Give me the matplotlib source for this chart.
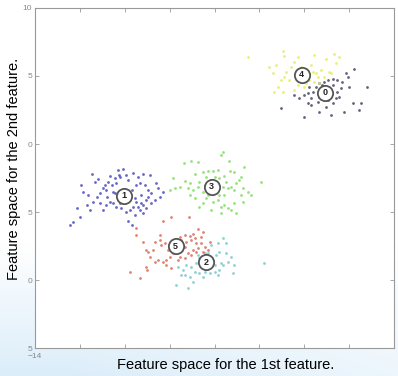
import numpy as np
import matplotlib
matplotlib.use("Agg")
import matplotlib.pyplot as plt

# =========================================================
# DATA
# =========================================================

blue_x = [-11.45, -11.19, -10.67, -10.30, -10.08, -10.25, -10.45, -10.74, -10.89, -10.99,
          -10.82, -10.59, -10.37, -10.22, -9.93, -9.85, -9.63, -9.41, -9.19, -8.89,
          -9.33, -9.48, -9.11, -8.96, -8.82, -8.59, -8.52, -8.30, -8.44, -8.67,
          -9.04, -9.26, -9.48, -9.63, -9.78, -9.33, -9.04, -9.19, -9.56, -9.93,
          -10.15, -10.37, -10.52, -10.67, -10.82, -10.96, -11.11, -11.26, -11.41, -11.63,
          -11.85, -11.93, -11.70, -11.56, -12.15, -12.00, -12.30, -12.44, -9.85, -9.70,
          -8.82, -11.11, -10.52, -11.33, -9.70, -10.44, -9.56, -9.26, -8.96, -9.41,
          -9.19, -10.81, -10.22]
blue_y = [-2.21, -2.60, -2.36, -1.91, -1.87, -2.28, -2.53, -2.77, -3.02, -3.26,
          -3.38, -3.02, -2.85, -2.45, -2.28, -2.65, -2.16, -2.41, -2.21, -2.28,
          -2.90, -3.02, -3.02, -3.38, -3.63, -2.90, -3.26, -3.51, -3.87, -4.12,
          -4.12, -4.36, -4.24, -4.61, -4.85, -4.85, -4.73, -5.10, -5.22, -4.98,
          -4.73, -4.61, -4.36, -4.24, -4.49, -4.85, -4.36, -3.87, -4.24, -3.75,
          -3.51, -3.02, -4.49, -4.85, -4.73, -5.34, -5.71, -5.95, -5.64, -5.95,
          -4.36, -3.63, -3.51, -2.77, -3.38, -3.63, -3.99, -3.75, -3.87, -4.61,
          -4.49, -3.87, -4.36]

green_x = [-5.63, -5.70, -5.36, -6.74, -7.04, -7.38, -7.85, -7.33, -7.56, -7.78,
           -8.00, -7.11, -6.89, -6.52, -6.30, -6.07, -5.85, -6.00, -6.37, -6.22,
           -5.78, -5.56, -5.33, -5.11, -4.81, -4.67, -4.89, -5.04, -5.26, -5.41,
           -5.11, -4.74, -4.52, -4.37, -3.93, -4.74, -5.11, -5.26, -5.04, -5.41,
           -5.70, -5.85, -5.70, -5.56, -6.07, -6.37, -6.52, -6.67, -6.89, -7.11,
           -6.96, -6.74, -6.52, -6.30, -6.07, -5.78, -5.56, -6.67, -7.19, -5.63,
           -5.48, -6.44, -6.15, -4.81]
green_y = [-0.61, -0.81, -1.25, -1.35, -1.25, -1.42, -2.52, -2.72, -3.14, -3.26,
           -3.38, -2.89, -2.23, -2.03, -1.99, -1.99, -1.91, -2.40, -2.40, -2.65,
           -2.52, -2.33, -1.99, -2.03, -2.40, -1.67, -2.65, -2.89, -3.14, -3.26,
           -3.38, -3.26, -3.51, -3.75, -2.82, -4.24, -4.36, -4.85, -5.10, -4.73,
           -4.61, -4.12, -5.10, -4.49, -4.24, -3.99, -4.36, -4.61, -3.99, -3.75,
           -3.38, -3.14, -3.51, -3.75, -3.63, -3.75, -3.75, -2.77, -3.26, -3.14,
           -2.77, -3.02, -4.85, -3.75]

red_x = [-9.48, -9.51, -8.30, -7.93, -7.14, -6.74, -6.52, -6.59, -6.96, -7.11,
         -7.33, -7.56, -7.48, -7.26, -7.04, -6.81, -6.59, -6.44, -6.22, -6.30,
         -6.52, -6.74, -6.96, -7.04, -7.19, -7.33, -7.56, -7.63, -7.85, -8.00,
         -8.15, -8.30, -8.52, -8.67, -8.89, -9.04, -9.19, -8.96, -8.44, -8.44,
         -8.67, -8.07, -8.22, -7.85, -7.93, -8.37, -8.74, -9.04, -9.01, -9.78,
         -9.33, -7.63, -7.33, -6.89, -6.81, -8.15]
red_y = [-6.20, -6.69, -5.64, -5.39, -5.34, -6.27, -6.45, -6.81, -6.62, -6.76,
         -6.69, -6.81, -7.06, -7.18, -7.06, -7.30, -7.30, -7.55, -7.18, -7.79,
         -7.92, -7.67, -7.79, -8.16, -8.04, -8.41, -8.28, -7.92, -8.04, -8.28,
         -8.53, -8.65, -8.53, -8.65, -8.28, -7.79, -7.18, -7.92, -7.06, -6.69,
         -7.18, -7.79, -7.30, -7.06, -9.14, -7.43, -7.79, -9.02, -9.26, -9.39,
         -9.88, -8.53, -7.55, -6.94, -7.92, -8.90]

cyan_x = [-6.15, -5.85, -5.63, -5.48, -5.78, -5.93, -5.48, -5.26, -5.41, -5.63,
          -5.78, -5.85, -6.00, -6.22, -6.44, -6.67, -6.89, -7.04, -7.26, -7.41,
          -7.48, -7.63, -7.33, -7.11, -6.96, -7.19, -7.70, -6.74, -6.67, -6.44,
          -6.30, -6.07, -6.00, -5.70, -5.11, -5.19, -3.78, -6.52, -6.30, -6.81,
          -6.37]
cyan_y = [-7.43, -7.30, -6.94, -7.30, -7.92, -8.16, -8.04, -8.28, -8.65, -8.90,
          -9.26, -9.63, -9.39, -9.51, -9.39, -9.51, -9.39, -9.02, -8.90, -9.26,
          -9.63, -9.02, -9.63, -9.75, -10.12, -10.61, -10.37, -8.16, -8.41, -8.04,
          -8.04, -8.53, -8.90, -8.77, -8.90, -9.51, -8.73, -9.75, -9.14, -8.77,
          -8.28]

yellow_x = [-4.52, -2.96, -2.89, -2.44, -2.30, -1.56, -1.04, -0.67, -0.44, -0.59,
            -0.89, -1.26, -1.48, -1.63, -1.41, -1.56, -1.78, -1.93, -2.00, -2.30,
            -2.44, -2.67, -2.89, -3.04, -3.19, -3.33, -2.96, -2.81, -2.59, -3.41,
            -3.56, -3.26, -1.11, -0.81, -1.70, -2.15, -2.37, -1.85, -2.30, -1.33]
yellow_y = [6.37, 6.86, 6.47, 6.05, 6.42, 6.54, 6.23, 6.62, 6.42, 5.93,
            5.32, 5.44, 5.20, 5.32, 4.95, 4.58, 4.71, 4.46, 4.22, 4.34,
            3.97, 4.71, 4.95, 4.71, 4.22, 3.85, 3.85, 5.32, 5.69, 5.20,
            5.69, 5.81, 4.95, 5.20, 5.81, 5.69, 5.20, 5.07, 4.71, 4.46]

dark_x = [-3.04, -2.00, -2.44, -2.22, -1.85, -1.70, -1.85, -1.70, -1.41, -1.33,
          -1.26, -1.19, -1.11, -0.96, -0.74, -0.52, -0.30, -0.07, -0.15, 0.22,
          0.00, -0.37, -0.52, -0.59, -0.74, -0.96, -1.04, -1.33, -0.81, -0.22,
          0.15, 0.52, 0.44, 0.81, -1.48, -1.63, -2.00, -1.78, -1.19, -1.33,
          -0.74, -0.44]
dark_y = [2.62, 1.96, 3.60, 3.36, 3.73, 3.36, 2.99, 2.87, 3.11, 3.48,
          3.97, 4.34, 4.58, 4.71, 4.76, 4.71, 4.58, 4.95, 5.20, 5.49,
          4.22, 4.09, 3.85, 3.36, 2.99, 3.24, 2.75, 2.38, 2.13, 2.38,
          2.99, 3.04, 2.50, 4.17, 4.22, 3.85, 3.60, 4.22, 4.22, 4.46,
          4.34, 3.48]

# cluster centres (label, x, y)
center_labels = ["0", "1", "2", "3", "4", "5"]
center_x = [-1.07, -10.04, -6.37, -6.12, -2.12, -7.73]
center_y = [3.77, -3.80, -8.70, -3.14, 5.07, -7.50]

y_ticks = [10, 5, 0, -5, -10, -15]
y_ticklabels = ["10", "5", "0", "5", "0", "5"]
x_ticks = [-14, -12, -10, -8, -6, -4, -2, 0, 2]
x_ticklabels = ["\u221214", "", "", "", "", "", "", "", ""]

CLUSTERS = [
    (dark_x, dark_y, "#3c3c5a"),
    (blue_x, blue_y, "#4040b8"),
    (cyan_x, cyan_y, "#74c4c6"),
    (green_x, green_y, "#78dc56"),
    (yellow_x, yellow_y, "#e6ec58"),
    (red_x, red_y, "#d8644f"),
]

# =========================================================
# FIGURE
# =========================================================

plt.rcParams["font.family"] = ["Liberation Sans", "DejaVu Sans"]

fig = plt.figure(figsize=(3.98, 3.76), dpi=100)
fig.patch.set_facecolor("white")

# soft blue slide background at the bottom
bg = fig.add_axes([0, 0, 1, 1], zorder=-10)
gy, gx = np.mgrid[0:1:200j, 0:1:200j]
alpha = np.clip((0.35 - gy) / 0.35, 0, 1) * np.clip(1.1 - 0.6 * gx, 0, 1)
img = np.ones((200, 200, 3))
tint = np.array([0.86, 0.93, 0.98])
img = img * (1 - alpha[..., None]) + tint * alpha[..., None]
bg.imshow(img, origin="lower", extent=[0, 1, 0, 1], aspect="auto")
bg.axis("off")

ax = fig.add_axes([0.088, 0.074, 0.902, 0.905])
ax.set_facecolor("white")

for xs, ys, col in CLUSTERS:
    ax.plot(xs, ys, "o", color=col, ms=2.0, mew=0, alpha=0.8, zorder=2)

for lab, cx, cy in zip(center_labels, center_x, center_y):
    ax.plot(cx, cy, "o", mfc="white", mec="#555555", mew=1.3, ms=11, zorder=4)
    ax.text(cx, cy, lab, ha="center", va="center", fontsize=6.5,
            fontweight="bold", color="#222222", zorder=5)

ax.set_xlim(-14, 2)
ax.set_ylim(-15, 10)
ax.set_yticks(y_ticks)
ax.set_yticklabels(y_ticklabels)
ax.set_xticks(x_ticks)
ax.set_xticklabels(x_ticklabels)

ax.tick_params(direction="in", length=3, width=0.6, colors="#999999",
               labelsize=6, labelcolor="#888888", top=True, right=True, pad=2)
ax.tick_params(axis="x", pad=3.5)
for s in ax.spines.values():
    s.set_color("#999999")
    s.set_linewidth(0.8)

fig.text(0.568, 0.029, "Feature space for the 1st feature.", ha="center",
         va="center", fontsize=10.5, color="black")
fig.text(0.036, 0.55, "Feature space for the 2nd feature.", ha="center",
         va="center", rotation=90, fontsize=10.5, color="black")

fig.savefig("out.png", dpi=100)
